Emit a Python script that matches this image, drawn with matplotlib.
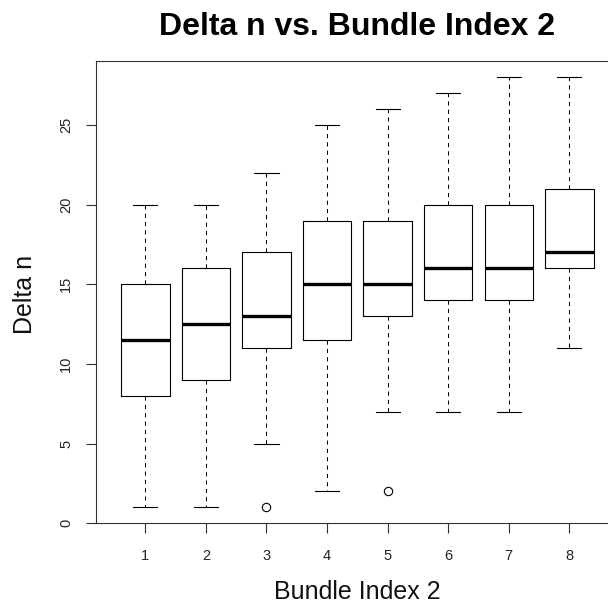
import matplotlib
matplotlib.use("Agg")
import matplotlib.pyplot as plt

plt.rcParams['font.family'] = ['Liberation Sans', 'DejaVu Sans']

# five-number summaries per bundle index
bundles = [1, 2, 3, 4, 5, 6, 7, 8]
whisk_lo = [1, 1, 5, 2, 7, 7, 7, 11]
q1 = [8, 9, 11, 11.5, 13, 14, 14, 16]
medians = [11.5, 12.5, 13, 15, 15, 16, 16, 17]
q3 = [15, 16, 17, 19, 19, 20, 20, 21]
whisk_hi = [20, 20, 22, 25, 26, 27, 28, 28]
outliers = [[], [], [1], [], [2], [], [], []]

stats = []
for i in range(len(bundles)):
    stats.append(dict(whislo=whisk_lo[i], q1=q1[i], med=medians[i],
                      q3=q3[i], whishi=whisk_hi[i], fliers=outliers[i]))

W, H = 608, 607
fig = plt.figure(figsize=(W / 100, H / 100), dpi=100)
# the plot region runs a little past the right edge of the figure
ax = fig.add_axes([95.7 / W, (H - 523.3) / H, (619 - 95.7) / W, (523.3 - 60.7) / H])

ax.bxp(stats, positions=bundles, widths=0.8, showfliers=True,
       boxprops=dict(color='black', linewidth=0.8),
       medianprops=dict(color='black', linewidth=2.4, solid_capstyle='butt'),
       whiskerprops=dict(color='black', linewidth=0.75, linestyle=(0, (4, 4))),
       capprops=dict(color='black', linewidth=0.8),
       flierprops=dict(marker='o', markerfacecolor='none', markeredgecolor='black',
                       markersize=6, markeredgewidth=0.8),
       capwidths=0.4)

ax.set_xlim(0.18, 8.82)
ax.set_ylim(0, 29.04)
ax.set_yticks([0, 5, 10, 15, 20, 25])
ax.set_xticks(bundles)
ax.set_xticklabels([str(b) for b in bundles])

for s in ax.spines.values():
    s.set_linewidth(0.8)
    s.set_color('#333333')

ax.tick_params(axis='both', direction='out', length=7.2, width=0.8, labelsize=10.5,
               color='#333333', labelcolor='#222222')
ax.tick_params(axis='x', pad=11)
ax.tick_params(axis='y', pad=9)
for lab in ax.get_yticklabels():
    lab.set_rotation(90)
    lab.set_va('center')

# titles placed in figure pixels
fig.text(357 / W, 1 - 35 / H, 'Delta n vs. Bundle Index 2', ha='center', va='baseline',
         fontsize=23, fontweight='bold')
fig.text(357 / W, 1 - 599 / H, 'Bundle Index 2', ha='center', va='baseline',
         fontsize=18, color='#111111')
fig.text(32 / W, 1 - 294 / H, 'Delta n', ha='center', va='baseline', rotation=90,
         rotation_mode='anchor', fontsize=18, color='#111111')

fig.savefig('out.png', dpi=100)
